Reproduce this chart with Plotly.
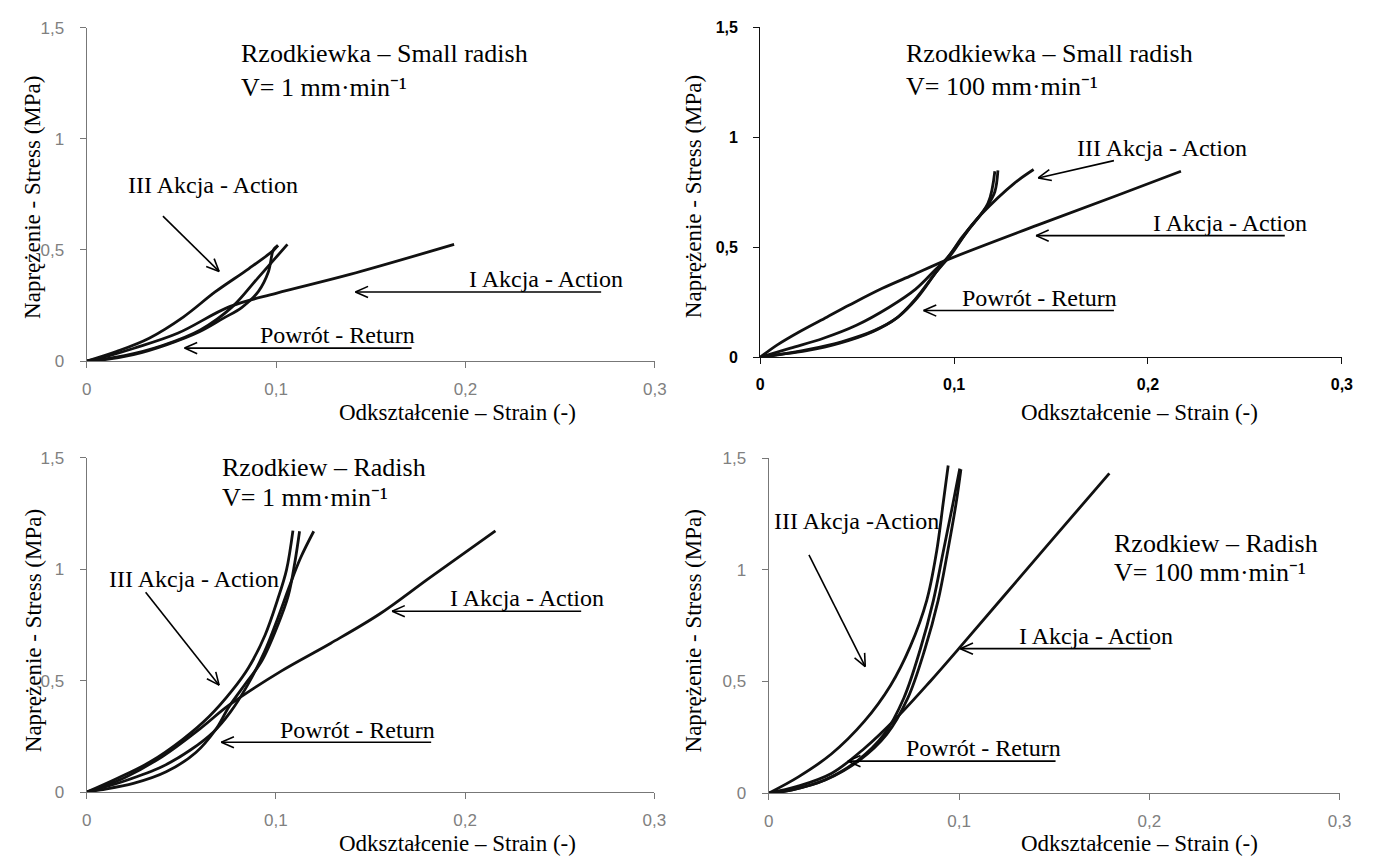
import math
import plotly.graph_objects as go

W, H = 1375, 867

# ---------------- data (strain, stress) ----------------
x_ticks = [0, 0.1, 0.2, 0.3]
x_tick_labels = ["0", "0,1", "0,2", "0,3"]
y_ticks = [0, 0.5, 1, 1.5]
y_tick_labels = ["0", "0,5", "1", "1,5"]

# Panel 1: Rzodkiewka (small radish), V = 1 mm/min
p1_I_x = [0, 0.012, 0.025, 0.048, 0.0755, 0.1, 0.139, 0.194]
p1_I_y = [0, 0.025, 0.058, 0.125, 0.245, 0.305, 0.39, 0.525]
p1_II_x = [0, 0.02, 0.04, 0.06, 0.077, 0.09, 0.106]
p1_II_y = [0, 0.025, 0.07, 0.14, 0.245, 0.37, 0.525]
p1_III_x = [0, 0.016, 0.033, 0.051, 0.068, 0.0855, 0.0986, 0.101]
p1_III_y = [0, 0.044, 0.103, 0.198, 0.312, 0.415, 0.498, 0.52]
p1_R_x = [0.101, 0.0986, 0.096, 0.0908, 0.082, 0.0716, 0.0595, 0.042, 0.0247, 0.007, 0]
p1_R_y = [0.52, 0.5, 0.403, 0.315, 0.242, 0.19, 0.132, 0.073, 0.029, 0.004, 0]

# Panel 2: Rzodkiewka (small radish), V = 100 mm/min
p2_I_x = [0, 0.0088, 0.0207, 0.0343, 0.046, 0.063, 0.0785, 0.096, 0.143, 0.184, 0.217]
p2_I_y = [0, 0.056, 0.118, 0.182, 0.237, 0.313, 0.373, 0.441, 0.60, 0.735, 0.845]
p2_II_x = [0, 0.01, 0.025, 0.042, 0.059, 0.071, 0.081, 0.091, 0.099, 0.108, 0.1175, 0.121]
p2_II_y = [0, 0.012, 0.035, 0.07, 0.122, 0.182, 0.27, 0.39, 0.48, 0.585, 0.70, 0.845]
p2_III_x = [0, 0.0156, 0.0326, 0.0496, 0.0665, 0.08, 0.0903, 0.097, 0.104, 0.114, 0.131, 0.141]
p2_III_y = [0, 0.041, 0.086, 0.145, 0.227, 0.308, 0.397, 0.456, 0.545, 0.649, 0.79, 0.853]
p2_R_x = [0.1226, 0.121, 0.1175, 0.107, 0.0988, 0.0903, 0.08, 0.07, 0.058, 0.041, 0.024, 0.007, 0]
p2_R_y = [0.849, 0.752, 0.693, 0.575, 0.471, 0.382, 0.264, 0.175, 0.116, 0.064, 0.03, 0.009, 0]

# Panel 3: Rzodkiew (radish), V = 1 mm/min
p3_I_x = [0, 0.02, 0.04, 0.06, 0.0752, 0.103, 0.129, 0.155, 0.181, 0.216]
p3_I_y = [0, 0.065, 0.16, 0.285, 0.39, 0.544, 0.668, 0.80, 0.96, 1.172]
p3_II_x = [0, 0.02, 0.04, 0.055, 0.067, 0.076, 0.085, 0.094, 0.101, 0.107, 0.113, 0.12]
p3_II_y = [0, 0.05, 0.115, 0.19, 0.27, 0.36, 0.48, 0.63, 0.78, 0.92, 1.05, 1.17]
p3_III_x = [0, 0.016, 0.0334, 0.0508, 0.0647, 0.0769, 0.0856, 0.0943, 0.101, 0.1056, 0.109]
p3_III_y = [0, 0.061, 0.135, 0.237, 0.339, 0.456, 0.559, 0.705, 0.866, 0.997, 1.173]
p3_R_x = [0.1125, 0.11, 0.1065, 0.101, 0.0925, 0.0838, 0.0752, 0.0682, 0.0577, 0.042, 0.0247, 0.0073, 0]
p3_R_y = [1.17, 1.03, 0.88, 0.749, 0.588, 0.485, 0.383, 0.281, 0.178, 0.091, 0.039, 0.01, 0]

# Panel 4: Rzodkiew (radish), V = 100 mm/min
p4_I_x = [0, 0.015, 0.0329, 0.0502, 0.0675, 0.0848, 0.102, 0.1228, 0.15, 0.179]
p4_I_y = [0, 0.03, 0.088, 0.2, 0.34, 0.5, 0.668, 0.875, 1.145, 1.432]
p4_II_x = [0, 0.0125, 0.03, 0.0475, 0.062, 0.073, 0.082, 0.089, 0.094, 0.0985, 0.101]
p4_II_y = [0, 0.015, 0.06, 0.146, 0.263, 0.424, 0.643, 0.862, 1.081, 1.30, 1.45]
p4_III_x = [0, 0.0156, 0.0329, 0.0502, 0.064, 0.0744, 0.083, 0.0882, 0.0917, 0.0943]
p4_III_y = [0, 0.073, 0.175, 0.321, 0.482, 0.657, 0.862, 1.081, 1.30, 1.467]
p4_R_x = [0.1004, 0.0969, 0.0917, 0.0865, 0.0796, 0.0709, 0.0606, 0.0467, 0.0294, 0.0121, 0]
p4_R_y = [1.453, 1.30, 1.081, 0.862, 0.643, 0.424, 0.263, 0.146, 0.059, 0.015, 0]

# ---------------- text ----------------
x_title = "Odkształcenie – Strain (-)"
y_title = "Naprężenie - Stress (MPa)"
lbl_I = "I Akcja - Action"
lbl_III = "III Akcja - Action"
lbl_R = "Powrót - Return"
v1 = "V= 1 mm·min\u207b\u00b9"
v100 = "V= 100 mm·min\u207b\u00b9"

SERIF = "Liberation Serif"
SANS = "Liberation Sans"

fig = go.Figure()

panels = [
    ([p1_I_x, p1_II_x, p1_III_x, p1_R_x], [p1_I_y, p1_II_y, p1_III_y, p1_R_y]),
    ([p2_I_x, p2_II_x, p2_III_x, p2_R_x], [p2_I_y, p2_II_y, p2_III_y, p2_R_y]),
    ([p3_I_x, p3_II_x, p3_III_x, p3_R_x], [p3_I_y, p3_II_y, p3_III_y, p3_R_y]),
    ([p4_I_x, p4_II_x, p4_III_x, p4_R_x], [p4_I_y, p4_II_y, p4_III_y, p4_R_y]),
]

# plot-area pixel boxes: (x of 0, x of 0.3, y of 0, y of 1.5)
boxes = [
    (82.7, 658.0, 360.0, 19.0),
    (764.7, 1353.6, 356.0, 18.5),
    (82.7, 657.5, 800.7, 458.7),
    (773.3, 1351.3, 801.7, 459.2),
]

for i, (xs, ys) in enumerate(panels):
    n = i + 1
    xa = "x" if n == 1 else f"x{n}"
    ya = "y" if n == 1 else f"y{n}"
    for k, (cx, cy) in enumerate(zip(xs, ys)):
        fig.add_trace(go.Scatter(
            x=cx, y=cy, mode="lines", xaxis=xa, yaxis=ya,
            line=dict(color="#111111", width=2.8, shape="spline", smoothing=1.0),
            showlegend=False, hoverinfo="skip"))

layout = dict(width=W, height=H, margin=dict(l=0, r=0, t=0, b=0),
              paper_bgcolor="white", plot_bgcolor="white",
              showlegend=False)

for i, (x0, x1, y0, y1) in enumerate(boxes):
    n = i + 1
    bold = (n == 2)
    line_col = "#111111" if bold else "#777777"
    tick_col = "#000000" if bold else "#808080"
    tfont = dict(family=SANS, size=16 if bold else 17, color=tick_col,
                 weight="bold" if bold else "normal")
    xk = "xaxis" if n == 1 else f"xaxis{n}"
    yk = "yaxis" if n == 1 else f"yaxis{n}"
    layout[xk] = dict(domain=[x0 / W, x1 / W], range=[0, 0.3],
                      anchor="y" if n == 1 else f"y{n}",
                      tickvals=x_ticks, ticktext=x_tick_labels,
                      showline=True, linecolor=line_col, linewidth=1.3,
                      ticks="outside", ticklen=6, tickcolor=line_col, tickwidth=1.3,
                      showgrid=False, zeroline=False, tickfont=tfont,
                      ticklabelstandoff=6)
    layout[yk] = dict(domain=[1 - y0 / H, 1 - y1 / H], range=[0, 1.5],
                      anchor="x" if n == 1 else f"x{n}",
                      tickvals=y_ticks, ticktext=y_tick_labels,
                      showline=True, linecolor=line_col, linewidth=1.3,
                      ticks="outside", ticklen=6, tickcolor=line_col, tickwidth=1.3,
                      showgrid=False, zeroline=False, tickfont=tfont,
                      ticklabelstandoff=12)

fig.update_layout(**layout)


def P(px, py):
    return px / W, 1 - py / H


def text(px, py, s, size=24, anchor="left", angle=0):
    x, y = P(px, py)
    fig.add_annotation(x=x, y=y, xref="paper", yref="paper", text=s,
                       showarrow=False, xanchor=anchor, yanchor="middle",
                       textangle=angle,
                       font=dict(family=SERIF, size=size, color="black"))


def seg(ax_, ay_, bx_, by_, w=1.6):
    x0, y0 = P(ax_, ay_)
    x1, y1 = P(bx_, by_)
    fig.add_shape(type="line", xref="paper", yref="paper",
                  x0=x0, y0=y0, x1=x1, y1=y1,
                  line=dict(color="black", width=w))


def arrow(tx, ty, hx, hy, head=14, ang=24):
    seg(tx, ty, hx, hy)
    d = math.atan2(ty - hy, tx - hx)
    for s in (-1, 1):
        a = d + s * math.radians(ang)
        seg(hx, hy, hx + head * math.cos(a), hy + head * math.sin(a), w=1.6)


# axis titles
for (cx, cy) in [(457.7, 412.5), (1149.0, 412.5), (457.7, 853.0), (1149.1, 853.0)]:
    text(cx, cy, x_title, size=23, anchor="center")
for (cx, cy) in [(28.5, 193), (697, 192), (28.5, 636), (697, 636)]:
    text(cx, cy, y_title, size=23, anchor="center", angle=-90)

# Panel 1
text(236.5, 46, "Rzodkiewka – Small radish", size=26)
text(236.5, 80, v1, size=26)
text(122.6, 180, lbl_III)
arrow(159.9, 211.7, 216.8, 268.3)
text(467.8, 276, lbl_I)
arrow(603.6, 289.3, 354.8, 289.3)
text(256.2, 333.3, lbl_R)
arrow(411.7, 346.7, 181.8, 346.7)

# Panel 2
text(910.4, 46, "Rzodkiewka – Small radish", size=26)
text(910.4, 79.3, v100, size=26)
text(1083.4, 141.7, lbl_III)
arrow(1122.8, 155, 1046.2, 172.7)
text(1160, 218.3, lbl_I)
arrow(1295.8, 231.7, 1044, 231.7)
text(967.3, 295, lbl_R)
arrow(1122.8, 308.3, 930.1, 308.3)

# Panel 3
text(218.1, 469, "Rzodkiew – Radish", size=26)
text(218.1, 499.7, v1, size=26)
text(102.9, 583, lbl_III)
arrow(142.4, 596.3, 216.8, 691.3)
text(449, 602.3, lbl_I)
arrow(583.4, 615.7, 392, 615.7)
text(276, 737, lbl_R)
arrow(431.5, 749.7, 219, 749.7)

# Panel 4
text(776.8, 523.7, "III Akcja -Action")
arrow(814, 558, 871, 672.3)
text(1120.6, 546.3, "Rzodkiew – Radish", size=26)
text(1120.6, 576.3, v100, size=26)
text(1024.3, 641.3, lbl_I)
arrow(1160, 654, 967.3, 654)
text(910.4, 755.7, lbl_R)
arrow(1063.7, 769, 853.4, 769)

fig.write_html("out.html")
